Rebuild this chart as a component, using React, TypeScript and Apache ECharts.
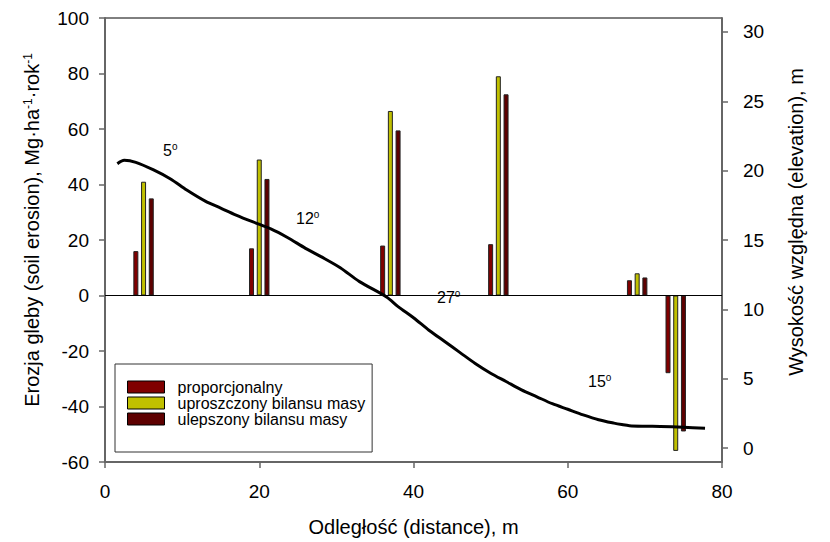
import React, { useEffect, useRef } from 'react';
import * as echarts from 'echarts';

const FONT = "'Liberation Sans', Arial, sans-serif";

const seriesNames = ['proporcjonalny', 'uproszczony bilansu masy', 'ulepszony bilansu masy'];
const seriesColors = ['#800000', '#c0c000', '#5e0000'];

const propX = [4, 19, 36, 50, 68, 73];
const propY = [16, 17, 18, 18.5, 5.5, -28];
const uprX = [5, 20, 37, 51, 69, 74];
const uprY = [41, 49, 66.5, 79, 8, -56];
const ulepX = [6, 21, 38, 52, 70, 75];
const ulepY = [35, 42, 59.5, 72.5, 6.5, -49];

const profileX = [1.6, 2.5, 4, 6.3, 8.5, 10.6, 13, 15, 17, 19.2, 21.5, 23.6, 26, 28, 30.5, 33, 36.5, 38, 40, 42, 44, 46, 48, 50, 52, 54, 56, 58, 60, 62, 64, 66, 67, 68, 70, 72, 75, 77.8];
const profileY = [20.5, 20.75, 20.6, 20.05, 19.4, 18.6, 17.8, 17.3, 16.8, 16.3, 15.8, 15.2, 14.4, 13.8, 13.0, 12.0, 10.9, 10.2, 9.4, 8.5, 7.7, 6.9, 6.1, 5.4, 4.8, 4.2, 3.7, 3.2, 2.8, 2.4, 2.05, 1.8, 1.7, 1.62, 1.58, 1.56, 1.5, 1.43];

const leftTicks = { min: -60, max: 100, interval: 20 };
const rightTicks = [0, 5, 10, 15, 20, 25, 30];
const xTicks = { min: 0, max: 80, interval: 20 };

const slopeLabels = ['5', '12', '27', '15'];
const slopePos = [
  [163, 141],
  [296, 209],
  [437, 288],
  [588, 372],
];

const pairs = (xs: number[], ys: number[]) => xs.map((x, i) => [x, ys[i]]);

export default function App() {
  const ref = useRef<HTMLDivElement>(null);
  useEffect(() => {
    const chart = echarts.init(ref.current!, null, { renderer: 'svg' });
    const axisLine = { show: true, onZero: false, lineStyle: { color: '#666', width: 2 } };
    const axisTick = { show: true, length: 6, lineStyle: { color: '#666', width: 1.5 } };
    const label = { color: '#000', fontSize: 19, fontFamily: FONT };
    const rich = {
      n: { fontSize: 20, fontFamily: FONT, color: '#000' },
      s: { fontSize: 12, fontFamily: FONT, color: '#000', verticalAlign: 'top' },
    };
    const barSeries = [propX, uprX, ulepX].map((xs, i) => ({
      name: seriesNames[i],
      type: 'bar',
      xAxisIndex: 0,
      yAxisIndex: 0,
      barWidth: 5,
      barGap: '-100%',
      data: pairs(xs, [propY, uprY, ulepY][i]),
      itemStyle: { color: seriesColors[i], borderColor: '#222', borderWidth: 1 },
      z: 2,
      ...(i === 0
        ? {
            markLine: {
              silent: true,
              symbol: 'none',
              label: { show: false },
              lineStyle: { color: '#000', width: 1, type: 'solid' },
              data: [{ yAxis: 0 }],
            },
          }
        : {}),
    }));
    chart.setOption({
      animation: false,
      backgroundColor: '#fff',
      textStyle: { fontFamily: FONT },
      grid: {
        left: 105,
        right: 108,
        top: 18,
        bottom: 80,
        show: true,
        borderColor: '#000',
        borderWidth: 1,
        backgroundColor: 'transparent',
      },
      legend: {
        data: seriesNames,
        orient: 'vertical',
        left: 115,
        top: 364,
        padding: [15, 7, 25, 12],
        itemWidth: 37,
        itemHeight: 12,
        itemGap: 0,
        icon: 'rect',
        borderColor: '#333',
        borderWidth: 1,
        backgroundColor: '#fff',
        itemStyle: { borderColor: '#000', borderWidth: 1 },
        textStyle: { fontSize: 16, color: '#000', fontFamily: FONT, lineHeight: 16, padding: [0, 0, 0, 8] },
      },
      xAxis: {
        type: 'value',
        min: xTicks.min,
        max: xTicks.max,
        interval: xTicks.interval,
        name: 'Odległość (distance), m',
        nameLocation: 'middle',
        nameGap: 55,
        nameTextStyle: { fontSize: 20, color: '#000', fontFamily: FONT },
        axisLine,
        axisTick,
        axisLabel: { ...label, margin: 20 },
        splitLine: { show: false },
      },
      yAxis: [
        {
          type: 'value',
          position: 'left',
          min: leftTicks.min,
          max: leftTicks.max,
          interval: leftTicks.interval,
          name: '{n|Erozja gleby (soil erosion), Mg·ha}{s|-1}{n|·rok}{s|-1}',
          nameLocation: 'middle',
          nameRotate: 90,
          nameGap: 63,
          nameTextStyle: { fontSize: 20, color: '#000', fontFamily: FONT, rich, padding: [0, 0, 0, 20] },
          axisLine,
          axisTick,
          axisLabel: { ...label, margin: 16 },
          splitLine: { show: false },
        },
        {
          type: 'value',
          position: 'right',
          min: -1,
          max: 31,
          name: 'Wysokość względna (elevation), m',
          nameLocation: 'middle',
          nameRotate: 90,
          nameGap: 64,
          nameTextStyle: { fontSize: 20, color: '#000', fontFamily: FONT, padding: [0, 0, 0, 36] },
          axisLine,
          axisTick: { ...axisTick, customValues: rightTicks },
          axisLabel: { ...label, margin: 21, customValues: rightTicks },
          splitLine: { show: false },
        },
      ],
      graphic: slopeLabels.map((t, i) => ({
        type: 'text',
        x: slopePos[i][0],
        y: slopePos[i][1],
        z: 10,
        style: {
          text: `{n|${t}}{s|o}`,
          rich: {
            n: { fontSize: 16, fontFamily: FONT, fill: '#000', lineHeight: 18 },
            s: { fontSize: 10, fontFamily: FONT, fill: '#000', verticalAlign: 'top' },
          },
        },
      })),
      series: [
        ...barSeries,
        {
          name: 'elevation',
          type: 'line',
          xAxisIndex: 0,
          yAxisIndex: 1,
          data: pairs(profileX, profileY),
          symbol: 'none',
          smooth: 0.3,
          lineStyle: { color: '#000', width: 3 },
          z: 5,
        },
      ],
    });
    return () => chart.dispose();
  }, []);
  return (
    <div
      ref={ref}
      style={{ position: 'fixed', left: 0, top: 0, width: 830, height: 542, background: '#fff' }}
    />
  );
}
